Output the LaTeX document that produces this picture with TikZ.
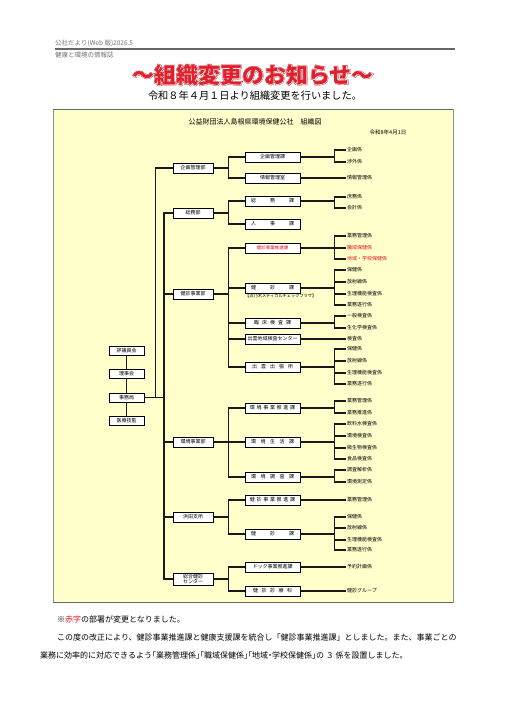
\documentclass[tikz,border=0pt]{standalone}
\usepackage{fontspec}
\setmainfont{Noto Sans CJK JP}
\usetikzlibrary{shadows}
\definecolor{chartyellow}{HTML}{FFFFCC}
\definecolor{titlered}{HTML}{E0202C}
\definecolor{changered}{HTML}{E8141E}
\tikzset{
  org/.style={draw, fill=white, line width=0.7pt, inner sep=0pt,
    minimum height=10, font=\fontsize{5}{6}\selectfont,
    drop shadow={shadow xshift=0.9pt, shadow yshift=-0.9pt, fill=black!85, opacity=1}},
  bu/.style={org, minimum width=40},
  ka/.style={org, minimum width=55},
  kaigi/.style={org, minimum width=35, minimum height=9},
  kakari/.style={anchor=west, inner sep=1pt, font=\fontsize{5}{6}\selectfont},
  henko/.style={text=changered},
  conn/.style={line width=1.1pt, black!90},
  plain/.style={anchor=west, inner sep=0pt},
}

\begin{document}
\begin{tikzpicture}[x=1pt,y=-1pt]
    \useasboundingbox[fill=white] (0,0) rectangle (509,720);
    % header
    \node[plain, font=\fontsize{6.5}{7}\selectfont, text=black!55] (issue) at (55,43) {公社だより(Web 版)2026.5};
    \node[plain, font=\fontsize{6.5}{7}\selectfont, text=black!55] (magazine) at (55,55) {健康と環境の情報誌};
    \draw[black!60, line width=1.2pt] (55,49) -- (455,49);
    \node[font=\fontsize{22}{24}\selectfont\bfseries\addfontfeature{FakeBold=6}, text=titlered!80!black] (title) at (253,75) {～組織変更のお知らせ～};
    \node[font=\fontsize{22}{24}\selectfont\bfseries\addfontfeature{FakeBold=3}, text=white] at (title) {～組織変更のお知らせ～};
    \node[font=\fontsize{22}{24}\selectfont\bfseries, text=titlered] at (title) {～組織変更のお知らせ～};
    \node[font=\fontsize{10.2}{11}\selectfont] (lead) at (255,96) {令和８年４月１日より組織変更を行いました。};
    % chart frame
    \draw[fill=chartyellow, draw=black!45, line width=0.5pt] (53,109) rectangle (453,602);
    \draw[black!60, line width=1pt] (53,109) -- (453,109);
    \draw[black!60, line width=1pt] (53,602) -- (453,602);
    \node[font=\fontsize{7}{8}\selectfont] (charttitle) at (255,122) {公益財団法人島根県環境保健公社　組織図};
    \node[font=\fontsize{5.5}{6}\selectfont] (chartdate) at (388,132) {令和8年4月1日};

    % board
    \node[kaigi] (hyogi) at (126.5,351) {評議員会};
    \node[kaigi] (riji) at (126.5,373.5) {理事会};
    \node[kaigi] (jimu) at (126.5,397.5) {事務局};
    \node[kaigi] (gikan) at (126.5,420.5) {医療技監};
    \draw[conn] (hyogi) -- (riji) -- (jimu) -- (gikan);

    % departments
    \node[bu] (kikakubu) at (193,168) {企画管理部};
    \node[bu] (somubu) at (193,213) {総務部};
    \node[bu] (kenshinbu) at (193,294) {健診事業部};
    \node[bu] (kankyobu) at (193,442) {環境事業部};
    \node[bu] (hamada) at (193,517) {浜田支所};
    \node[bu, minimum height=12, align=center, font=\fontsize{5}{5.2}\selectfont] (center) at (193,579) {総合健診\\センター};
    \coordinate (trunk) at (164,213);
    \draw[conn] (kikakubu.west) -- ++(-17,0) |- (jimu.east);
    \draw[conn] (somubu.west) -- (trunk) |- (center.west);
    \draw[conn] (jimu.east) -- (jimu.east -| trunk);
    \draw[conn] (kenshinbu.west) -- (kenshinbu.west -| trunk);
    \draw[conn] (kankyobu.west) -- (kankyobu.west -| trunk);
    \draw[conn] (hamada.west) -- (hamada.west -| trunk);

    % sections
    \node[ka] (kikakuka) at (272.5,157) {企画管理課};
    \node[ka] (johoshitsu) at (272.5,178) {情報管理室};
    \node[ka] (somuka) at (272.5,201) {総\hspace{14pt}務\hspace{14pt}課};
    \node[ka] (jinjika) at (272.5,224) {人\hspace{14pt}事\hspace{14pt}課};
    \node[ka, henko, font=\fontsize{4.5}{5}\selectfont] (suishinka) at (272.5,248) {健診事業推進課};
    \node[ka] (kenshinka) at (272.5,288) {健\hspace{14pt}診\hspace{14pt}課};
    \node[plain, anchor=north west, font=\fontsize{4.2}{5}\selectfont] (plaza) at (245,294) {【浜乃木メディカルチェックプラザ】};
    \node[ka] (rinshoka) at (272.5,323) {臨\hspace{3pt}床\hspace{3pt}検\hspace{3pt}査\hspace{3pt}課};
    \node[ka] (izumolab) at (272.5,339) {出雲地域検査センター};
    \node[ka] (izumo) at (272.5,367) {出\hspace{4pt}雲\hspace{4pt}出\hspace{4pt}張\hspace{4pt}所};
    \node[ka] (ksuishinka) at (272.5,408) {環\hspace{1.7pt}境\hspace{1.7pt}事\hspace{1.7pt}業\hspace{1.7pt}推\hspace{1.7pt}進\hspace{1.7pt}課};
    \node[ka] (seikatsuka) at (272.5,442) {環\hspace{4.5pt}境\hspace{4.5pt}生\hspace{4.5pt}活\hspace{4.5pt}課};
    \node[ka] (chosaka) at (272.5,477) {環\hspace{4.5pt}境\hspace{4.5pt}調\hspace{4.5pt}査\hspace{4.5pt}課};
    \node[ka] (hsuishinka) at (272.5,500) {健\hspace{1.7pt}診\hspace{1.7pt}事\hspace{1.7pt}業\hspace{1.7pt}推\hspace{1.7pt}進\hspace{1.7pt}課};
    \node[ka] (hkenshinka) at (272.5,534) {健\hspace{14pt}診\hspace{14pt}課};
    \node[ka] (dockka) at (272.5,567) {ドック事業推進課};
    \node[ka] (shinryoka) at (272.5,591) {健\hspace{3.5pt}診\hspace{3.5pt}診\hspace{3.5pt}療\hspace{3.5pt}科};

    \foreach \s in {kikakuka,johoshitsu}
      \draw[conn] (kikakubu.east) -- ++(15,0) |- (\s.west);
    \foreach \s in {somuka,jinjika}
      \draw[conn] (somubu.east) -- ++(15,0) |- (\s.west);
    \foreach \s in {suishinka,kenshinka,rinshoka,izumolab,izumo}
      \draw[conn] (kenshinbu.east) -- ++(15,0) |- (\s.west);
    \foreach \s in {ksuishinka,seikatsuka,chosaka}
      \draw[conn] (kankyobu.east) -- ++(15,0) |- (\s.west);
    \foreach \s in {hsuishinka,hkenshinka}
      \draw[conn] (hamada.east) -- ++(15,0) |- (\s.west);
    \foreach \s in {dockka,shinryoka}
      \draw[conn] (center.east) -- ++(15,0) |- (\s.west);

    % units
    \node[kakari] (kikakuka1) at (346,150) {企画係};
    \node[kakari] (kikakuka2) at (346,162) {渉外係};
    \node[kakari] (johoshitsu1) at (346,178) {情報管理係};
    \node[kakari] (somuka1) at (346,197) {庶務係};
    \node[kakari] (somuka2) at (346,208) {会計係};
    \node[kakari] (suishinka1) at (346,236) {業務管理係};
    \node[kakari, henko] (suishinka2) at (346,248) {職域保健係};
    \node[kakari, henko] (suishinka3) at (346,259) {地域・学校保健係};
    \node[kakari] (kenshinka1) at (346,270) {保健係};
    \node[kakari] (kenshinka2) at (346,282) {放射線係};
    \node[kakari] (kenshinka3) at (346,294) {生理機能検査係};
    \node[kakari] (kenshinka4) at (346,305) {業務遂行係};
    \node[kakari] (rinshoka1) at (346,316) {一般検査係};
    \node[kakari] (rinshoka2) at (346,328) {生化学検査係};
    \node[kakari] (izumolab1) at (346,339) {検査係};
    \node[kakari] (izumo1) at (346,349) {保健係};
    \node[kakari] (izumo2) at (346,361) {放射線係};
    \node[kakari] (izumo3) at (346,373) {生理機能検査係};
    \node[kakari] (izumo4) at (346,384) {業務遂行係};
    \node[kakari] (ksuishinka1) at (346,401) {業務管理係};
    \node[kakari] (ksuishinka2) at (346,413) {業務推進係};
    \node[kakari] (seikatsuka1) at (346,424) {飲料水検査係};
    \node[kakari] (seikatsuka2) at (346,436) {環境検査係};
    \node[kakari] (seikatsuka3) at (346,448) {微生物検査係};
    \node[kakari] (seikatsuka4) at (346,459) {食品検査係};
    \node[kakari] (chosaka1) at (346,470) {調査解析係};
    \node[kakari] (chosaka2) at (346,482) {環境測定係};
    \node[kakari] (hsuishinka1) at (346,500) {業務管理係};
    \node[kakari] (hkenshinka1) at (346,517) {保健係};
    \node[kakari] (hkenshinka2) at (346,528) {放射線係};
    \node[kakari] (hkenshinka3) at (346,540) {生理機能検査係};
    \node[kakari] (hkenshinka4) at (346,550) {業務遂行係};
    \node[kakari] (dockka1) at (346,567) {予約計画係};
    \node[kakari] (shinryoka1) at (346,591) {健診グループ};

    \foreach \u in {kikakuka1,kikakuka2}
      \draw[conn] (kikakuka.east) -- ++(34,0) |- (\u.west);
    \draw[conn] (johoshitsu.east) -- (johoshitsu1.west);
    \foreach \u in {somuka1,somuka2}
      \draw[conn] (somuka.east) -- ++(34,0) |- (\u.west);
    \foreach \u in {suishinka1,suishinka2,suishinka3}
      \draw[conn] (suishinka.east) -- ++(34,0) |- (\u.west);
    \foreach \u in {kenshinka1,kenshinka2,kenshinka3,kenshinka4}
      \draw[conn] (kenshinka.east) -- ++(34,0) |- (\u.west);
    \foreach \u in {rinshoka1,rinshoka2}
      \draw[conn] (rinshoka.east) -- ++(34,0) |- (\u.west);
    \draw[conn] (izumolab.east) -- (izumolab1.west);
    \foreach \u in {izumo1,izumo2,izumo3,izumo4}
      \draw[conn] (izumo.east) -- ++(34,0) |- (\u.west);
    \foreach \u in {ksuishinka1,ksuishinka2}
      \draw[conn] (ksuishinka.east) -- ++(34,0) |- (\u.west);
    \foreach \u in {seikatsuka1,seikatsuka2,seikatsuka3,seikatsuka4}
      \draw[conn] (seikatsuka.east) -- ++(34,0) |- (\u.west);
    \foreach \u in {chosaka1,chosaka2}
      \draw[conn] (chosaka.east) -- ++(34,0) |- (\u.west);
    \draw[conn] (hsuishinka.east) -- (hsuishinka1.west);
    \foreach \u in {hkenshinka1,hkenshinka2,hkenshinka3,hkenshinka4}
      \draw[conn] (hkenshinka.east) -- ++(34,0) |- (\u.west);
    \draw[conn] (dockka.east) -- (dockka1.west);
    \draw[conn] (shinryoka.east) -- (shinryoka1.west);

    % notes
    \node[plain, font=\fontsize{8}{9}\selectfont] (note1) at (57,619) {※{\color{changered}赤字}の部署が変更となりました。};
    \node[plain, font=\fontsize{8}{9}\selectfont] (note2) at (57,637) {この度の改正により、健診事業推進課と健康支援課を統合し「健診事業推進課」としました。また、事業ごとの};
    \node[plain, font=\fontsize{8}{9}\selectfont\addfontfeature{RawFeature=+halt}] (note3) at (40,655) {業務に効率的に対応できるよう「業務管理係」「職域保健係」「地域・学校保健係」の ３ 係を設置しました。};
\end{tikzpicture}
\end{document}
